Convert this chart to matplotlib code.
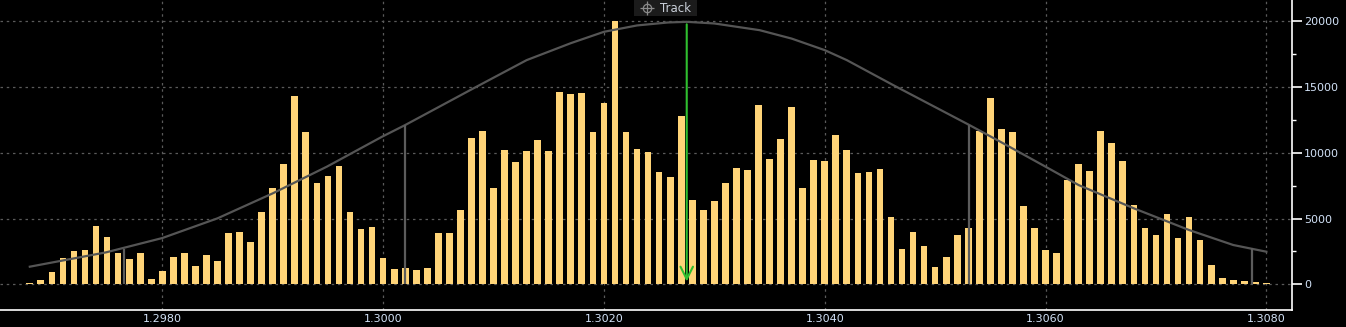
import numpy as np
import matplotlib.pyplot as plt
from matplotlib.ticker import MultipleLocator, FixedLocator
from matplotlib.patches import Rectangle
from matplotlib.lines import Line2D

# histogram: bin centres start at 1.2968, step 0.0001
bin_start = 1.2968
bin_step = 0.0001
counts = [
    100, 330, 940, 2000, 2535, 2610, 4440, 3600, 2380, 1930,
    2380, 405, 1015, 2080, 2380, 1395, 2230, 1775, 3900, 3980,
    3220, 5500, 7330, 9150, 14320, 11585, 7700, 8240, 9000, 5500,
    4210, 4360, 2000, 1165, 1240, 1090, 1240, 3900, 3900, 5650,
    11130, 11660, 7330, 10215, 9300, 10140, 10975, 10140, 14625, 14475,
    14550, 11585, 13790, 20000, 11585, 10290, 10065, 8540, 8160, 12800,
    6410, 5650, 6340, 7700, 8850, 8700, 13640, 9530, 11050, 13490,
    7330, 9455, 9380, 11360, 10215, 8470, 8540, 8770, 5120, 2690,
    3980, 2915, 1320, 2080, 3750, 4280, 11660, 14170, 11810, 11585,
    5960, 4280, 2610, 2380, 7935, 9150, 8620, 11660, 10750, 9380,
    6030, 4280, 3750, 5350, 3520, 5120, 3370, 1470, 480, 330,
    250, 180, 100,
]

# fitted distribution curve
curve_x = [1.29680, 1.29749, 1.29800, 1.29850, 1.29900, 1.29949, 1.29999,
           1.30020, 1.30080, 1.30130, 1.30170, 1.30200, 1.30230, 1.30258,
           1.30275, 1.30300, 1.30341, 1.30370, 1.30400, 1.30420, 1.30462,
           1.30531, 1.30559, 1.30600, 1.30630, 1.30680, 1.30730, 1.30770,
           1.30800]
curve_y = [1340, 2430, 3520, 5020, 6920, 8950, 11230,
           12120, 14830, 17060, 18350, 19215, 19700, 19925,
           19975, 19850, 19340, 18700, 17820, 17060, 15160,
           12120, 10850, 8950, 7550, 5780, 4130, 2990,
           2480]

# sigma markers (-2s, -1s, +1s, +2s)
sigma_x = [1.29765, 1.30020, 1.30531, 1.30787]
sigma_y = [2690, 12120, 12120, 2740]

track_price = 1.30275
track_top = 20000

x_ticks = [1.2980, 1.3000, 1.3020, 1.3040, 1.3060, 1.3080]

bg = '#000000'
bar_color = '#FFD478'
label_color = '#d2e2f7'
grid_color = '#5a5a5a'

fig = plt.figure(figsize=(13.46, 3.27), dpi=100, facecolor=bg)
ax = fig.add_axes([0.0, 0.052, 0.9597, 0.948])
ax.set_facecolor(bg)

centres = bin_start + bin_step * np.arange(len(counts))
ax.bar(centres, counts, width=0.0000607, color=bar_color, zorder=3)

ax.plot(curve_x, curve_y, color='#555555', linewidth=1.6, zorder=4)
ax.vlines(sigma_x, 0, sigma_y, color='#5c5c5c', linewidth=1.6, zorder=4)

# track line with open arrow head at the bottom
ax.annotate('', xy=(track_price, 0), xytext=(track_price, track_top),
            arrowprops=dict(arrowstyle='->,head_length=0.9,head_width=0.45',
                            color='#2fbf2f', linewidth=1.5), zorder=5)

ax.set_xlim(1.296530, 1.308230)
ax.set_ylim(-1956, 21636)

ax.xaxis.set_major_locator(FixedLocator(x_ticks))
ax.set_xticklabels([f'{t:.4f}' for t in x_ticks])
ax.yaxis.set_major_locator(MultipleLocator(5000))
ax.yaxis.set_minor_locator(MultipleLocator(2500))
ax.yaxis.tick_right()

ax.grid(True, which='major', color=grid_color, linestyle=(0, (2, 3)),
        linewidth=0.9, zorder=0)

for s in ['top', 'left']:
    ax.spines[s].set_visible(False)
for s in ['bottom', 'right']:
    ax.spines[s].set_color('white')
    ax.spines[s].set_linewidth(1.2)

ax.tick_params(axis='x', length=0, pad=3, labelsize=8, labelcolor=label_color)
ax.tick_params(axis='y', which='major', length=7, width=1.2, color='white',
               pad=2, labelsize=8, labelcolor=label_color)
ax.tick_params(axis='y', which='minor', length=3, width=1.0, color='white')

# "Track" tag at the top
fig.add_artist(Rectangle((0.4710, 0.951), 0.0468, 0.049, transform=fig.transFigure,
                         facecolor='#1b1b1b', edgecolor='none', zorder=10))
fig.add_artist(Line2D([0.4807], [0.9755], transform=fig.transFigure, marker='o',
                      markersize=6, markerfacecolor='none', markeredgecolor='#8a8a8a',
                      markeredgewidth=0.9, zorder=11))
fig.add_artist(Line2D([0.4807], [0.9755], transform=fig.transFigure, marker='+',
                      markersize=10, markeredgecolor='#8a8a8a',
                      markeredgewidth=0.9, zorder=11))
fig.text(0.4903, 0.9755, 'Track', fontsize=8.5, color='#c9cfd8',
         ha='left', va='center', zorder=12)

fig.savefig('out.png', dpi=100, facecolor=bg)
